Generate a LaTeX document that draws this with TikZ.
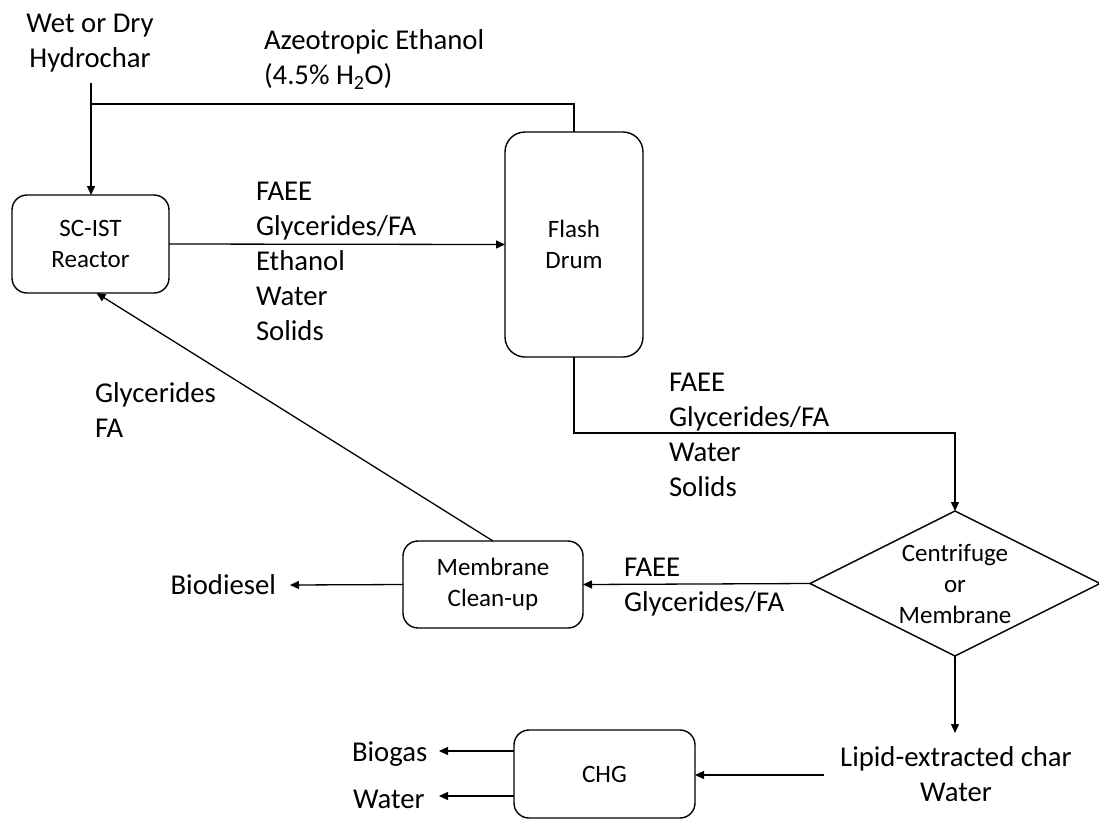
\documentclass[tikz,border=0pt]{standalone}
\usepackage{fontspec}
\setmainfont{Carlito}
\usetikzlibrary{shapes.geometric,arrows.meta}
\begin{document}
\begin{tikzpicture}[x=1pt,y=-1pt,
  line width=1.3pt,
  unit/.style={draw, rounded corners=15pt, line width=1.4pt, inner sep=0pt, outer sep=0pt,
    font=\fontsize{25}{31}\selectfont, align=center},
  decision/.style={draw, diamond, shape aspect=2, line width=1.4pt, inner sep=0pt, outer sep=0pt,
    font=\fontsize{25}{31}\selectfont, align=center},
  lbl/.style={inner sep=0pt, outer sep=0pt, font=\fontsize{28.7}{35}\selectfont, align=left},
  arr/.style={-{Triangle[length=9pt,width=8pt]}},
]
\useasboundingbox (0,0) rectangle (1099,820);

% process units
\node[unit, minimum width=157pt, minimum height=98pt] (reactor) at (90.5,244) {SC-IST\\Reactor};
\node[unit, rounded corners=20pt, minimum width=138pt, minimum height=225pt] (drum) at (574,244.5) {Flash\\Drum};
\node[decision, minimum width=290pt, minimum height=145pt] (sep) at (955,583.5) {Centrifuge\\or\\Membrane};
\node[unit, minimum width=180pt, minimum height=87pt] (mem) at (493,584.5) {Membrane\\Clean-up};
\node[unit, minimum width=181pt, minimum height=88pt] (chg) at (604.5,774) {CHG};

% stream labels
\node[lbl, anchor=north, align=center] (hydro) at (90,14) {Wet or Dry\\Hydrochar};
\node[lbl, anchor=north west] (azeo) at (264,30) {Azeotropic Ethanol\\(4.5\% H\textsubscript{2}O)};
\node[lbl, anchor=north west] (mix) at (256,182) {FAEE\\Glycerides/FA\\Ethanol\\Water\\Solids};
\node[lbl, anchor=north west] (bottoms) at (669,373) {FAEE\\Glycerides/FA\\Water\\Solids};
\node[lbl, anchor=north west] (recyc) at (95,383) {Glycerides\\FA};
\node[lbl, anchor=north west] (oil) at (624,558) {FAEE\\Glycerides/FA};
\node[lbl, anchor=base east] (bio) at (276,594) {Biodiesel};
\node[lbl, anchor=north, align=center] (lec) at (956,747) {Lipid-extracted char\\Water};
\node[lbl, anchor=base west] (gas) at (352,761) {Biogas};
\node[lbl, anchor=base west] (wat) at (353,808) {Water};

% connector end points
\coordinate (feed) at (91,83);
\coordinate (tee) at (91,104);
\coordinate (bend) at (574,433);
\coordinate (bioin) at (290,585);
\coordinate (lecin) at (955,733);
\coordinate (lecout) at (824,775);
\coordinate (gasin) at (439,751);
\coordinate (watin) at (439,796);

% streams
\draw[arr] (feed) -- (reactor.north -| feed);
\draw (drum.north) |- (tee);
\draw[arr] (reactor.east) -- (drum.west);
\draw[arr] (drum.south) -- (bend) -| (sep.north);
\draw[arr] (sep.west) -- (mem.east);
\draw[arr] (mem.north) -- ([xshift=6pt]reactor.south);
\draw[arr] (mem.west) -- (bioin);
\draw[arr] (sep.south) -- (lecin);
\draw[arr] (lecout) -- (chg.east |- lecout);
\draw[arr] (chg.west |- gasin) -- (gasin);
\draw[arr] (chg.west |- watin) -- (watin);
\end{tikzpicture}
\end{document}
